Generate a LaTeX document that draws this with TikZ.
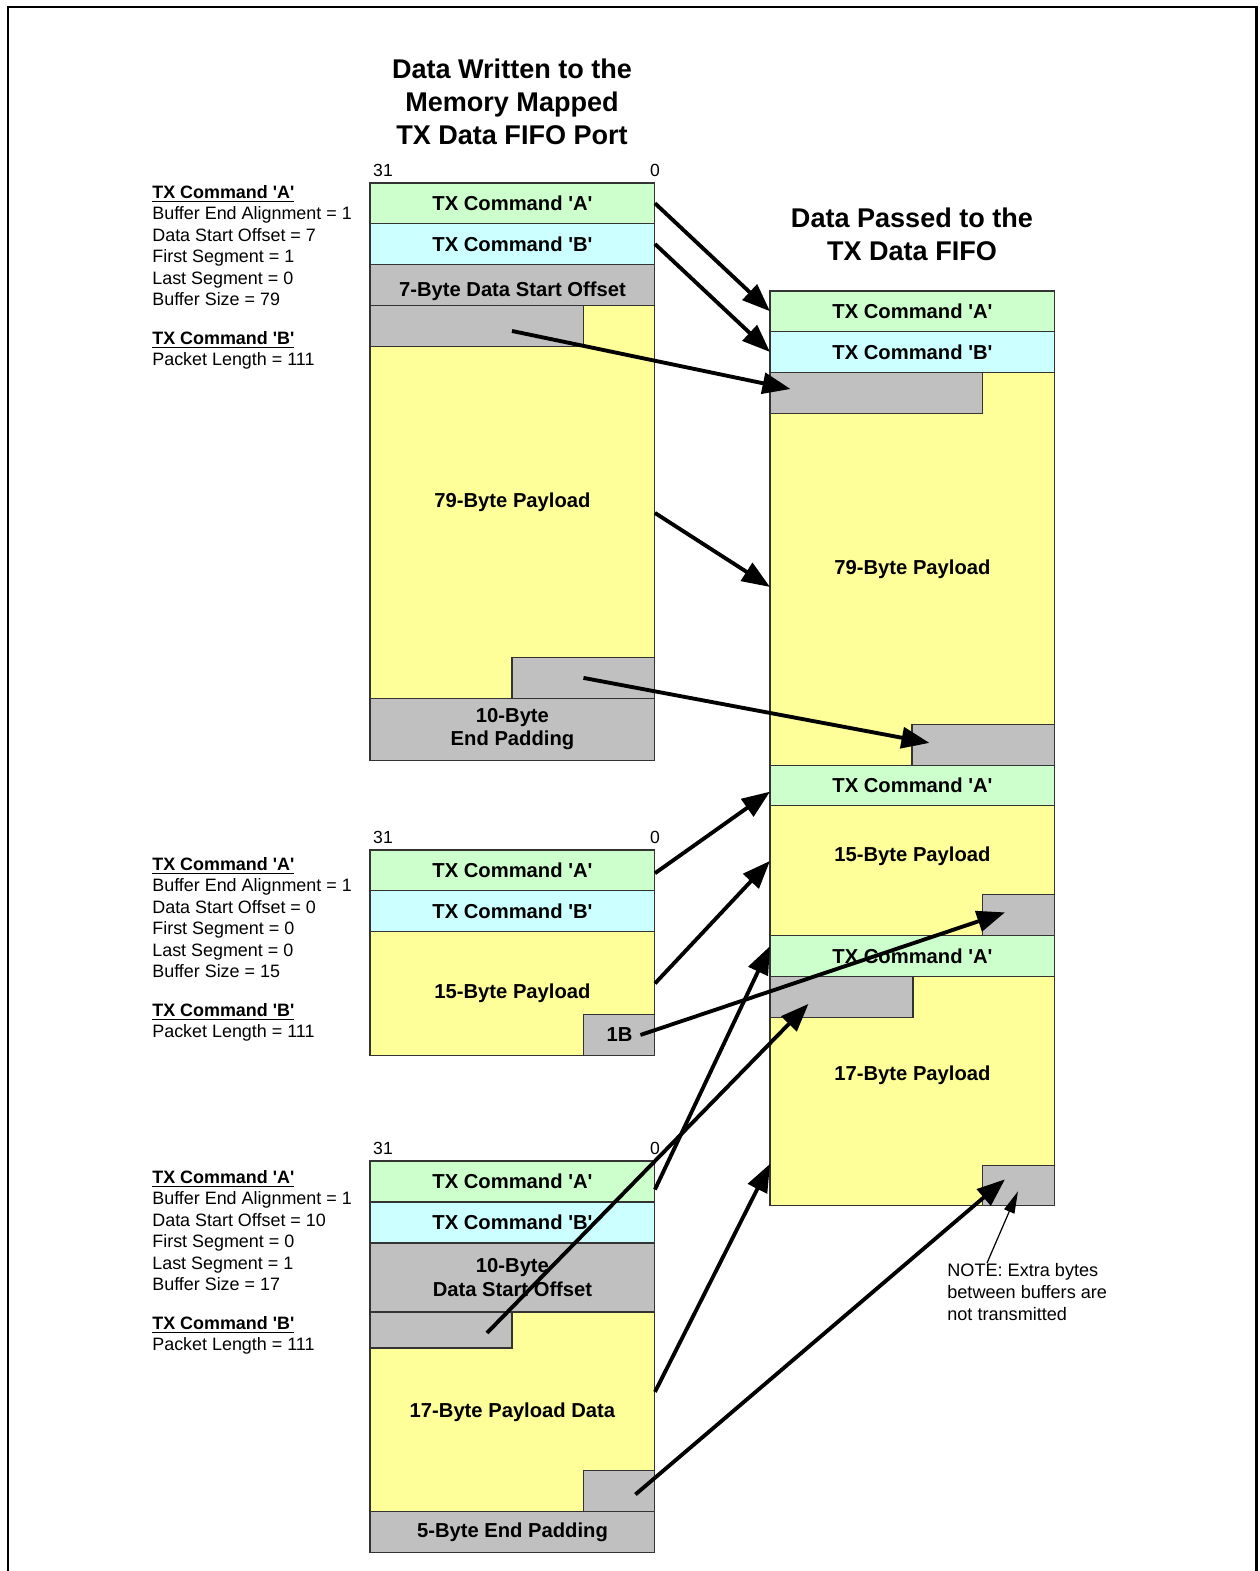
\documentclass[tikz,border=0pt]{standalone}
\usepackage{fontspec}
\setmainfont{Liberation Sans}[Ligatures=TeXOff]
\usetikzlibrary{arrows.meta, positioning, calc}
\definecolor{cmdagreen}{RGB}{204,255,204}
\definecolor{cmdbcyan}{RGB}{204,255,255}
\definecolor{padgray}{RGB}{192,192,192}
\definecolor{payyellow}{RGB}{255,255,153}
\tikzset{
  fld/.style={rectangle, draw=black!80, line width=0.6pt, inner sep=0pt, outer sep=0pt, minimum width=5.7cm, text centered, align=center, font=\fontsize{11.5}{13.2}\selectfont\bfseries},
  cmda/.style={fld, fill=cmdagreen, minimum height=0.81cm},
  cmdb/.style={fld, fill=cmdbcyan, minimum height=0.82cm},
  pad/.style={fld, fill=padgray},
  pay/.style={fld, fill=payyellow},
  lbl/.style={font=\fontsize{11.5}{13.2}\selectfont\bfseries, inner sep=0pt},
  bits/.style={font=\fontsize{10}{12}\selectfont, inner sep=0pt},
  info/.style={anchor=north west, align=left, font=\fontsize{10.2}{12.2}\selectfont, inner sep=0pt},
  note/.style={anchor=north west, align=left, font=\fontsize{10.3}{12.5}\selectfont, inner sep=0pt},
  ttl/.style={align=center, font=\fontsize{15.4}{18.8}\selectfont\bfseries, inner sep=0pt},
  arr/.style={line width=2.2pt, -{Triangle[length=0.56cm, width=0.42cm]}},
  ptr/.style={line width=0.7pt, -{Triangle[length=0.44cm, width=0.22cm]}}
}
\begin{document}
\begin{tikzpicture}[x=0.02cm, y=-0.02cm]
  \useasboundingbox (0,0) rectangle (1259,1571);
  \draw[line width=1.7pt] (8,1571) -- (8,7) -- (1256,7) -- (1256,1571);

  % titles
  \node[ttl] (ttlw) at (512,102) {Data Written to the\\Memory Mapped\\TX Data FIFO Port};
  \node[ttl] (ttlr) at (912,234) {Data Passed to the\\TX Data FIFO};

  % first buffer
  \node[bits] (hi1) at (383,170) {31};
  \node[bits] (lo1) at (655,170) {0};
  \node[cmda, anchor=north west] (a1) at (370,183) {TX Command 'A'};
  \node[cmdb, below=0pt of a1] (b1) {TX Command 'B'};
  \node[pad, minimum height=0.82cm, text height=15pt, below=0pt of b1] (o1) {7-Byte Data Start Offset};
  \node[pay, minimum height=7.86cm, below=0pt of o1] (p1) {79-Byte Payload};
  \node[pad, minimum height=1.24cm, below=0pt of p1] (e1) {10-Byte\\End Padding};
  \node[pad, minimum width=4.28cm, minimum height=0.82cm, anchor=north west] (g1) at (p1.north west) {};
  \node[pad, minimum width=2.86cm, minimum height=0.82cm, anchor=south east] (t1) at (p1.south east) {};
  \node[info] (inf1) at (152,185) {\underline{\textbf{TX Command 'A'}}\\
    Buffer End Alignment = 1\\Data Start Offset = 7\\First Segment = 1\\
    Last Segment = 0\\Buffer Size = 79\\[10pt]
    \underline{\textbf{TX Command 'B'}}\\Packet Length = 111};

  % second buffer
  \node[bits] (hi2) at (383,837) {31};
  \node[bits] (lo2) at (655,837) {0};
  \node[cmda, anchor=north west] (a2) at (370,850) {TX Command 'A'};
  \node[cmdb, below=0pt of a2] (b2) {TX Command 'B'};
  \node[pay, minimum height=2.48cm, below=0pt of b2] (p2) {15-Byte Payload};
  \node[pad, minimum width=1.42cm, minimum height=0.82cm, anchor=south east] (bb2) at (p2.south east) {1B};
  \node[info] (inf2) at (152,857) {\underline{\textbf{TX Command 'A'}}\\
    Buffer End Alignment = 1\\Data Start Offset = 0\\First Segment = 0\\
    Last Segment = 0\\Buffer Size = 15\\[10pt]
    \underline{\textbf{TX Command 'B'}}\\Packet Length = 111};

  % third buffer
  \node[bits] (hi3) at (383,1148) {31};
  \node[bits] (lo3) at (655,1148) {0};
  \node[cmda, minimum height=0.82cm, anchor=north west] (a3) at (370,1161) {TX Command 'A'};
  \node[cmdb, below=0pt of a3] (b3) {TX Command 'B'};
  \node[pad, minimum height=1.38cm, below=0pt of b3] (o3) {10-Byte\\Data Start Offset};
  \node[pay, minimum height=4cm, below=0pt of o3] (p3) {17-Byte Payload Data};
  \node[pad, minimum height=0.82cm, below=0pt of p3] (e3) {5-Byte End Padding};
  \node[pad, minimum width=2.84cm, minimum height=0.72cm, anchor=north west] (g3) at (p3.north west) {};
  \node[pad, minimum width=1.42cm, minimum height=0.82cm, anchor=south east] (t3) at (p3.south east) {};
  \node[info] (inf3) at (152,1170) {\underline{\textbf{TX Command 'A'}}\\
    Buffer End Alignment = 1\\Data Start Offset = 10\\First Segment = 0\\
    Last Segment = 1\\Buffer Size = 17\\[10pt]
    \underline{\textbf{TX Command 'B'}}\\Packet Length = 111};

  % TX data FIFO
  \node[cmda, anchor=north west] (ra1) at (770,291) {TX Command 'A'};
  \node[cmdb, below=0pt of ra1] (rb1) {TX Command 'B'};
  \node[pay, minimum height=7.86cm, below=0pt of rb1] (rp1) {79-Byte Payload};
  \node[pad, minimum width=4.26cm, minimum height=0.82cm, anchor=north west] (rg1) at (rp1.north west) {};
  \node[pad, minimum width=2.86cm, minimum height=0.82cm, anchor=south east] (re1) at (rp1.south east) {};
  \node[cmda, below=0pt of rp1] (ra2) {TX Command 'A'};
  \node[pay, minimum height=2.6cm, below=0pt of ra2,
        label={[lbl, yshift=0.3cm]center:15-Byte Payload}] (rp2) {};
  \node[pad, minimum width=1.44cm, minimum height=0.82cm, anchor=south east] (rx2) at (rp2.south east) {};
  \node[cmda, below=0pt of rp2] (ra3) {TX Command 'A'};
  \node[pay, minimum height=4.58cm, below=0pt of ra3,
        label={[lbl, yshift=0.31cm]center:17-Byte Payload}] (rp3) {};
  \node[pad, minimum width=2.86cm, minimum height=0.82cm, anchor=north west] (rg3) at (rp3.north west) {};
  \node[pad, minimum width=1.44cm, minimum height=0.8cm, anchor=south east] (rx3) at (rp3.south east) {};
  \node[note] (nt) at (947,1263) {NOTE: Extra bytes\\between buffers are\\not transmitted};

  % arrows
  \draw[arr] (a1.east) -- (ra1.west);
  \draw[arr] (b1.east) -- (rb1.west);
  \draw[arr] ($(g1.center)+(35,5)$) -- ($(rg1.center)+(-86,-4)$);
  \draw[arr] ($(p1.east)+(0,11)$) -- ($(rp1.west)+(0,18)$);
  \draw[arr] (t1.center) -- ($(re1.center)+(-54,-2)$);
  \draw[arr] ($(a2.east)+(0,3)$) -- ($(ra2.west)+(0,6)$);
  \draw[arr] ($(p2.east)+(0,-10)$) -- ($(rp2.west)+(0,-10)$);
  \draw[arr] ($(bb2.center)+(21,0)$) -- ($(rx2.center)+(-14,-3)$);
  \draw[arr] ($(a3.east)+(0,8)$) -- ($(ra3.west)+(0,-10)$);
  \draw[arr] ($(g3.center)+(46,3)$) -- ($(rg3.center)+(-33,7)$);
  \draw[arr] ($(p3.east)+(0,-20)$) -- ($(rp3.west)+(0,73)$);
  \draw[arr] ($(t3.center)+(16,3)$) -- ($(rx3.center)+(-14,-6)$);
  \draw[ptr] ($(nt.north west)+(40,0)$) -- ($(rx3.south)+(-1,-14)$);
\end{tikzpicture}
\end{document}
